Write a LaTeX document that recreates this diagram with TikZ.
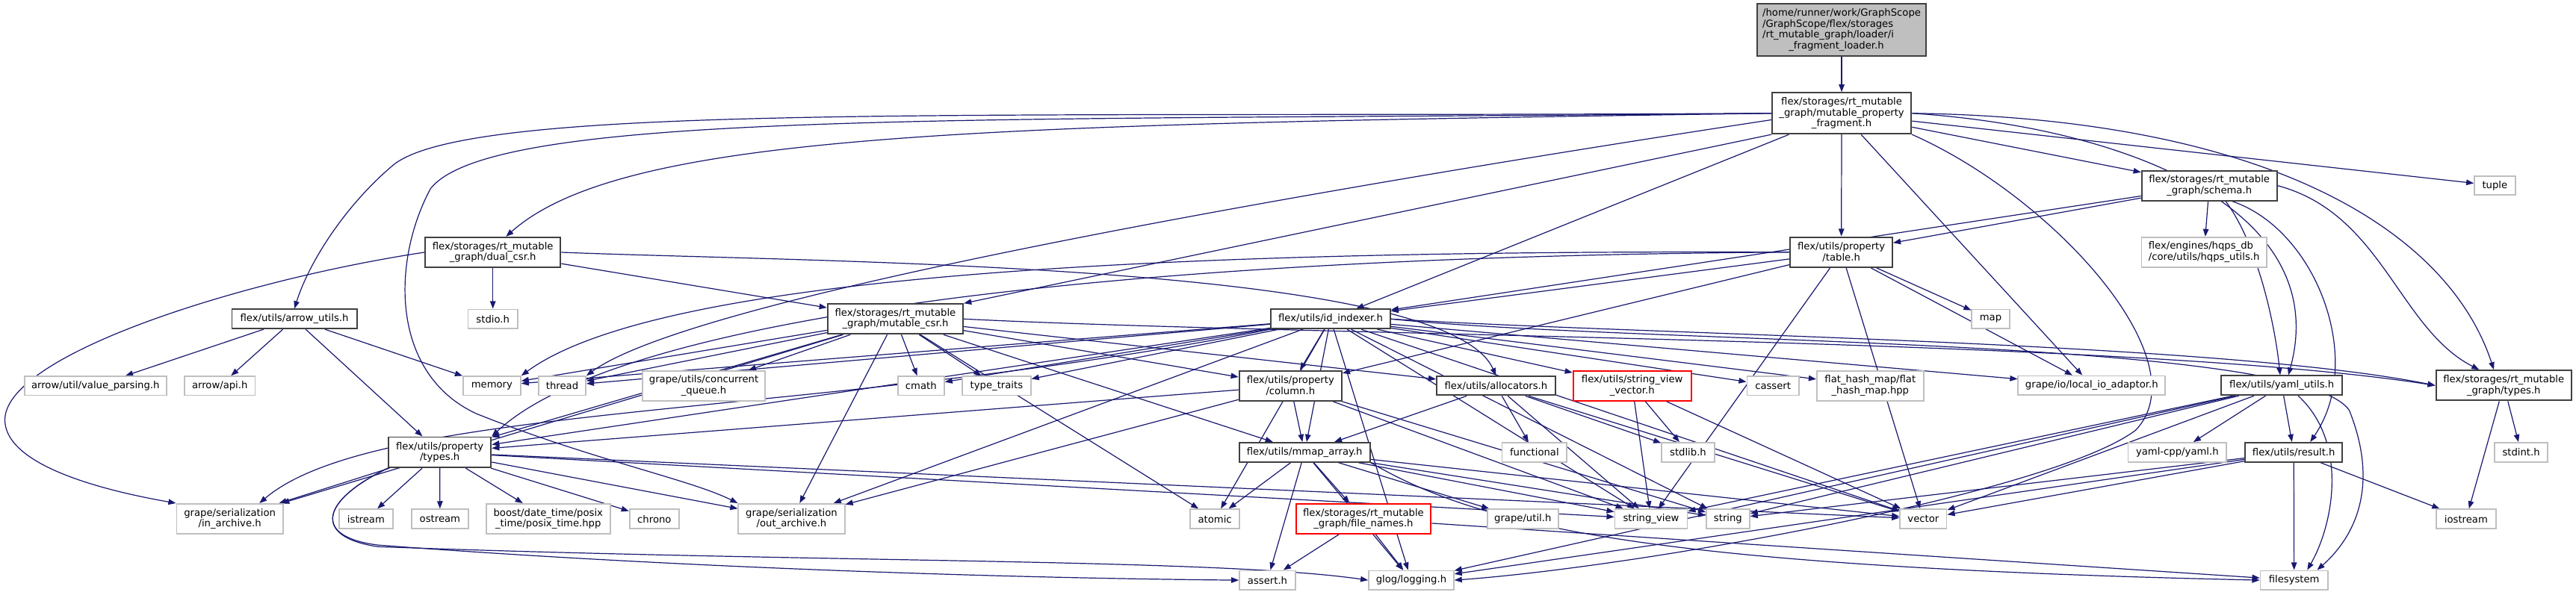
\documentclass[tikz,border=0pt]{standalone}
\usepackage{fontspec}
\setmainfont{DejaVu Sans}
\usetikzlibrary{arrows.meta}
\definecolor{edgec}{HTML}{191970}
\definecolor{grayb}{HTML}{BFBFBF}
\definecolor{darkb}{HTML}{404040}
\pgfdeclarelayer{bg}
\pgfsetlayers{bg,main}
\tikzset{
 box/.style={draw=darkb, line width=0.9pt, fill=white, inner sep=1pt, align=center, font=\fontsize{6}{6.6}\selectfont},
 ext/.style={box, draw=grayb, line width=0.8pt},
 redb/.style={box, draw=red},
 topb/.style={box, fill=grayb, align=left},
 edge/.style={draw=edgec, line width=0.55pt, -{Triangle[length=4.6pt,width=3.4pt]}},
}
\newcommand{\mynode}[6]{\node[#1, minimum width=#4pt, minimum height=#5pt] (#2) at (#3) {#6};}
\begin{document}
\begin{tikzpicture}[x=1pt,y=-1pt]
\useasboundingbox (0,0) rectangle (1568,362);
% nodes
\mynode{topb}{top}{1121,18.3}{103}{32}{/home/runner/work/GraphScope\\/GraphScope/flex/storages\\/rt\_mutable\_graph/loader/i\\\hspace*{16pt}\_fragment\_loader.h}
\mynode{box}{mpf}{1121,69}{84.8}{25}{flex/storages/rt\_mutable\\\_graph/mutable\_property\\\_fragment.h}
\mynode{box}{schema}{1344.8,113.1}{82.3}{18.2}{flex/storages/rt\_mutable\\\_graph/schema.h}
\mynode{ext}{tuple}{1518.6,113}{24.8}{11.5}{tuple}
\mynode{box}{dualcsr}{300,153.7}{82.5}{18.3}{flex/storages/rt\_mutable\\\_graph/dual\_csr.h}
\mynode{box}{table}{1120.8,153.6}{62.2}{18.4}{flex/utils/property\\/table.h}
\node[ext, align=left, minimum width=76.1pt, minimum height=18.2pt] (hqps) at (1341.6,153.6) {flex/engines/hqps\_db\\/core/utils/hqps\_utils.h};
\mynode{box}{arrowutils}{179.2,194.3}{76}{11.7}{flex/utils/arrow\_utils.h}
\mynode{ext}{stdio}{300,194.3}{30.3}{11.7}{stdio.h}
\mynode{box}{mcsr}{545,194.3}{82.5}{18.2}{flex/storages/rt\_mutable\\\_graph/mutable\_csr.h}
\mynode{box}{idx}{809.9,194.3}{72.6}{11.7}{flex/utils/id\_indexer.h}
\mynode{ext}{map}{1211.7,194.3}{22.9}{11.7}{map}
\mynode{ext}{vp}{58.1,235}{86.4}{11.5}{arrow/util/value\_parsing.h}
\mynode{ext}{api}{133.8,235}{43.1}{11.5}{arrow/api.h}
\mynode{ext}{memory}{299.4,235}{35}{11.5}{memory}
\mynode{ext}{thread}{342.2,235}{28.7}{11.5}{thread}
\mynode{ext}{cq}{428.4,235}{74.4}{18.2}{grape/utils/concurrent\\\_queue.h}
\mynode{ext}{cmath}{560.6,235}{28.2}{11.5}{cmath}
\mynode{ext}{tt}{606.6,235}{41.7}{11.5}{type\_traits}
\mynode{box}{column}{785.5,235}{62.4}{18.2}{flex/utils/property\\/column.h}
\mynode{box}{alloc}{910.6,235}{72.1}{11.5}{flex/utils/allocators.h}
\mynode{redb}{svv}{993.5,235}{71.8}{18.2}{flex/utils/string\_view\\\_vector.h}
\mynode{ext}{cassert}{1079.2,235}{31.6}{11.5}{cassert}
\mynode{ext}{fhm}{1138.4,235}{65}{18.2}{flat\_hash\_map/flat\\\_hash\_map.hpp}
\mynode{ext}{lia}{1273.2,234.8}{89.5}{11.7}{grape/io/local\_io\_adaptor.h}
\mynode{box}{yu}{1388.9,234.8}{73.6}{11.7}{flex/utils/yaml\_utils.h}
\mynode{box}{rtypes}{1524,234.8}{82.5}{18.3}{flex/storages/rt\_mutable\\\_graph/types.h}
\mynode{box}{ptypes}{267.7,275.5}{62.4}{18.5}{flex/utils/property\\/types.h}
\mynode{box}{mmap}{794.1,275.5}{79.6}{11.7}{flex/utils/mmap\_array.h}
\mynode{ext}{functional}{934,275.5}{39.4}{11.7}{functional}
\mynode{ext}{stdlib}{1027.5,275.5}{32.1}{11.7}{stdlib.h}
\mynode{ext}{yamlcpp}{1325.3,275.5}{59.9}{11.7}{yaml-cpp/yaml.h}
\mynode{box}{result}{1396.2,275.5}{59.1}{11.7}{flex/utils/result.h}
\mynode{ext}{stdint}{1534.6,275.5}{32.2}{11.7}{stdint.h}
\mynode{ext}{inarch}{139.9,316}{64.8}{18.2}{grape/serialization\\/in\_archive.h}
\mynode{ext}{istream}{222.8,316.1}{32.6}{11.7}{istream}
\mynode{ext}{ostream}{267.8,316.1}{34.4}{11.7}{ostream}
\mynode{ext}{boost}{333.7,316}{75.4}{18.2}{boost/date\_time/posix\\\_time/posix\_time.hpp}
\mynode{ext}{chrono}{398.3,316.1}{30.2}{11.7}{chrono}
\mynode{ext}{outarch}{481.8,316}{64.7}{18.2}{grape/serialization\\/out\_archive.h}
\mynode{ext}{atomic}{739.5,316.1}{30}{11.7}{atomic}
\mynode{redb}{fn}{829.9,316}{82.2}{18.2}{flex/storages/rt\_mutable\\\_graph/file\_names.h}
\mynode{ext}{gutil}{926.9,316.1}{43.3}{11.7}{grape/util.h}
\mynode{ext}{sv}{1005,316.1}{44.1}{11.7}{string\_view}
\mynode{ext}{string}{1051.8,316.1}{26.3}{11.7}{string}
\mynode{ext}{vector}{1170.7,316.1}{28.4}{11.7}{vector}
\mynode{ext}{iostream}{1501.1,316.1}{36.2}{11.7}{iostream}
\mynode{ext}{assert}{771.5,353.4}{34}{11.6}{assert.h}
\mynode{ext}{glog}{859,353.4}{51.7}{11.6}{glog/logging.h}
\mynode{ext}{filesystem}{1396.4,353.4}{41.1}{11.6}{filesystem}
% edges
\begin{pgfonlayer}{bg}
\foreach \a/\b in {top/mpf,mpf/idx,mpf/table,mpf/schema,mpf/tuple,mpf/lia,
 dualcsr/stdio,dualcsr/mcsr,
 arrowutils/vp,arrowutils/api,arrowutils/memory,arrowutils/ptypes,
 schema/hqps,schema/table,schema/idx,
 table/map,table/idx,table/column,table/lia,table/vector,table/sv,
 idx/memory,idx/thread,idx/cmath,idx/tt,idx/column,idx/svv,idx/cassert,idx/fhm,idx/lia,idx/mmap,idx/ptypes,idx/atomic,idx/sv,idx/string,idx/vector,idx/outarch,idx/glog,
 mcsr/memory,mcsr/thread,mcsr/inarch,mcsr/outarch,mcsr/ptypes,mcsr/cq,mcsr/cmath,mcsr/tt,mcsr/column,mcsr/alloc,mcsr/mmap,mcsr/atomic,
 column/ptypes,column/mmap,column/outarch,column/sv,column/string,
 alloc/mmap,alloc/functional,alloc/stdlib,alloc/sv,alloc/vector,
 svv/stdlib,svv/sv,svv/vector,
 mmap/atomic,mmap/assert,mmap/fn,mmap/gutil,mmap/sv,mmap/string,mmap/vector,mmap/glog,
 fn/assert,fn/glog,fn/filesystem,
 ptypes/inarch,ptypes/istream,ptypes/ostream,ptypes/boost,ptypes/chrono,ptypes/outarch,ptypes/sv,ptypes/vector,
 yu/yamlcpp,yu/result,yu/string,yu/vector,yu/glog,yu/sv,
 result/vector,result/string,result/iostream,result/filesystem,result/glog,
 rtypes/stdint,rtypes/iostream}
 {\draw[edge] (\a) -- (\b);}
\draw[edge] (mpf.south west) -- (mcsr.north east);
\draw[edge] ([yshift=-4pt]mpf.west) .. controls (900,100) and (430,175) .. (thread.north east);
\draw[edge] (mpf.west) .. controls (600,72) and (290,62) .. (240,100) .. controls (210,125) and (188,160) .. (arrowutils.north);
\draw[edge] (mpf.west) .. controls (600,76) and (380,80) .. ([xshift=8pt]dualcsr.north);
\draw[edge] (mpf.west) .. controls (600,74) and (300,66) .. (262,115) .. controls (238,160) and (238,228) .. (290,252) .. controls (360,280) and (420,292) .. (outarch.north west);
\draw[edge] (dualcsr.west) .. controls (150,170) and (5,215) .. (3,255) .. controls (2,285) and (70,300) .. (inarch.north west);
\draw[edge] (dualcsr.east) .. controls (500,160) and (880,160) .. (alloc.north);
\draw[edge] (table.west) .. controls (700,152) and (400,168) .. (memory.north east);
\draw[edge] (table.west) .. controls (700,156) and (380,190) .. (ptypes.north east);
\draw[edge] (mcsr.east) .. controls (800,205) and (1300,206) .. (rtypes.west);
\draw[edge] (idx.east) .. controls (1000,204) and (1350,208) .. (rtypes.west);
\draw[edge] (idx.south west) .. controls (500,255) and (230,245) .. ([xshift=18pt]inarch.north);
\draw[edge] (ptypes.south west) .. controls (195,305) and (190,327) .. (230,332) .. controls (400,345) and (600,352) .. (assert.west);
\draw[edge] (ptypes.south west) .. controls (195,305) and (190,327) .. (230,333) .. controls (500,343) and (740,340) .. (glog.west);
\draw[edge] (mpf.east) .. controls (1300,78) and (1420,130) .. ([xshift=4pt]yu.north);
\draw[edge] ([xshift=10pt]schema.south) .. controls (1375,150) and (1385,200) .. ([xshift=-1pt]yu.north);
\draw[edge] ([xshift=14pt]schema.south) .. controls (1410,140) and (1440,220) .. ([xshift=10pt]result.north);
\draw[edge] (mpf.east) .. controls (1380,72) and (1490,140) .. ([xshift=-6pt]rtypes.north);
\draw[edge] (schema.east) .. controls (1450,130) and (1460,200) .. ([xshift=-15pt]rtypes.north);
\draw[edge] (mpf.south east) .. controls (1250,120) and (1340,220) .. (1300,262) .. controls (1250,300) and (1000,345) .. (glog.east);
\draw[edge] (idx.east) .. controls (1000,210) and (1400,205) .. (1430,250) .. controls (1450,300) and (1430,330) .. ([xshift=14pt]filesystem.north);
\draw[edge] ([xshift=10pt]yu.south) .. controls (1430,270) and (1420,320) .. ([xshift=8pt]filesystem.north);
\draw[edge] (mmap.south east) .. controls (900,320) and (1000,345) .. (filesystem.west);
\end{pgfonlayer}
\end{tikzpicture}
\end{document}
